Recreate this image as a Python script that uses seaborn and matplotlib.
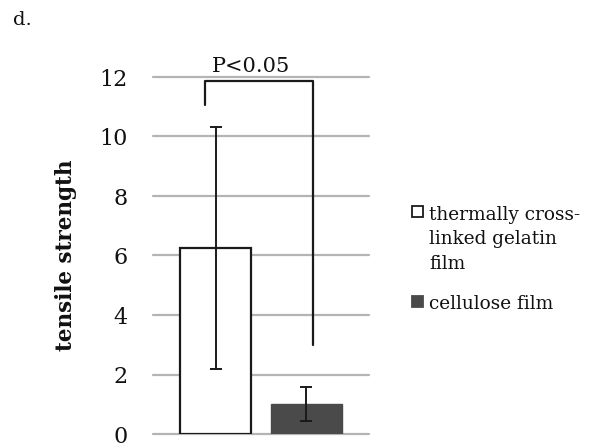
import matplotlib
matplotlib.use("Agg")
import matplotlib.pyplot as plt
import seaborn as sns
import pandas as pd
from matplotlib.patches import Rectangle

categories = ["thermally cross-\nlinked gelatin\nfilm", "cellulose film"]
values = [6.25, 1.0]
errors = [4.08, 0.57]
yticks = [0, 2, 4, 6, 8, 10, 12]
bracket_left_y = 11.05
bracket_top_y = 11.88
bracket_right_y = 3.0
sig_label = "P<0.05"
panel_label = "d."
ylabel = "tensile strength"
bar_colors = ["white", "#4a4a4a"]
text_color = "#111111"

sns.set_theme(style="white")
plt.rcParams['font.family'] = ['DejaVu Serif']
plt.rcParams['text.color'] = text_color
plt.rcParams['ytick.color'] = text_color

W, H = 601, 448
fig = plt.figure(figsize=(W / 100, H / 100), dpi=100)
ax = fig.add_axes([153 / W, 14 / H, (369 - 153) / W, (434 - 77) / H])

df = pd.DataFrame({"film": categories, "strength": values})
sns.barplot(data=df, x="film", y="strength", hue="film",
            palette=bar_colors, edgecolor=None, width=0.79,
            legend=False, ax=ax, zorder=2)
ax.patches[0].set_edgecolor("#1a1a1a")
ax.patches[0].set_linewidth(1.6)
ax.patches[1].set_edgecolor(bar_colors[1])

ax.errorbar(range(len(values)), values, yerr=errors, fmt="none",
            ecolor="#1a1a1a", elinewidth=1.4, capsize=4.3, capthick=1.4, zorder=3)

ax.set_ylim(0, 12)
ax.set_xlim(-0.687, 1.687)
ax.set_yticks(yticks)
ax.set_yticklabels([str(t) for t in yticks], fontsize=16)
ax.tick_params(axis="y", length=0, pad=18.5)
ax.set_xticks([])
ax.set_xlabel("")
ax.set_ylabel(ylabel, fontsize=15.5, fontweight="bold", labelpad=16, color=text_color)
for s in ax.spines.values():
    s.set_visible(False)
ax.set_axisbelow(True)
for t in yticks:
    ax.axhline(t, color="#b4b4b4", linewidth=1.6, zorder=0, clip_on=False)

# significance bracket
xl, xr = -0.115, 1.07
ax.plot([xl, xl, xr, xr], [bracket_left_y, bracket_top_y, bracket_top_y, bracket_right_y],
        color="#1a1a1a", linewidth=1.6, clip_on=False, zorder=4)
ax.text(0.39, 12.17, sig_label, ha="center", va="baseline", fontsize=15, clip_on=False)

fig.text(13 / W, 1 - 25 / H, panel_label, fontsize=14, va="baseline", ha="left")

# legend (manual so the key sits on the first line of a multi-line label)
# (square top px, baseline px of the label's last line)
legend_rows = [(206, 269), (296, 309)]
for (sq_top, base), label, col in zip(legend_rows, categories, bar_colors):
    ec = "#1a1a1a" if col == "white" else col
    fig.add_artist(Rectangle((412 / W, 1 - (sq_top + 11) / H), 11 / W, 11 / H,
                             transform=fig.transFigure, facecolor=col,
                             edgecolor=ec, linewidth=1.3))
    fig.text(429 / W, 1 - base / H, label, fontsize=13.3, va="baseline", ha="left",
             linespacing=1.47)

fig.savefig("out.png", dpi=100)
